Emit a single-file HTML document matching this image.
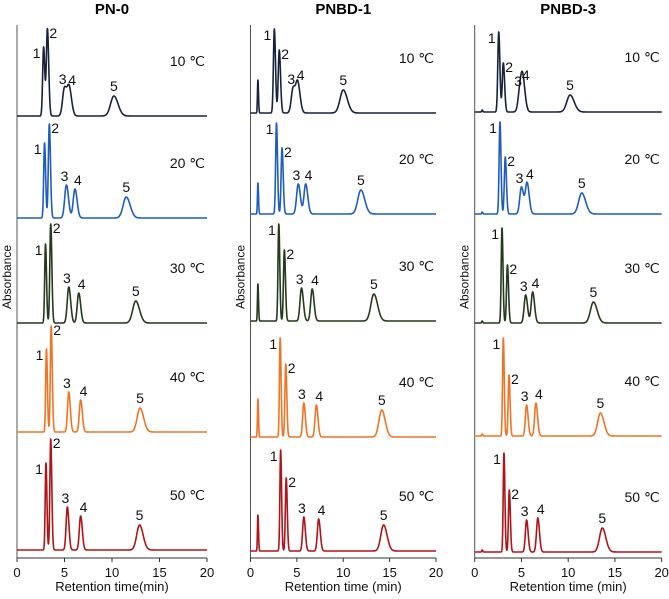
<!DOCTYPE html>
<html><head><meta charset="utf-8"><style>
html,body{margin:0;padding:0;background:#fff;}
svg{display:block;font-family:"Liberation Sans",Arial,sans-serif;}
</style></head><body>
<svg id="chart" width="669" height="599" viewBox="0 0 669 599" xmlns="http://www.w3.org/2000/svg"></svg>
<script>
// ---- data: retention times (min), peak heights (a.u.), widths (min) ----
const panelTitles = ["PN-0", "PNBD-1", "PNBD-3"];
const temps = ["10 ℃", "20 ℃", "30 ℃", "40 ℃", "50 ℃"];
const xTicks = [0, 5, 10, 15, 20];
const xTitles = ["Retention time(min)", "Retention time (min)", "Retention time (min)"];
const peakLabels = ["0", "1", "2", "3", "4", "5"];

// each row: [p0, p1, p2, p3, p4, p5]
const rtPN0 = [
  [0.8, 2.8, 3.2, 5.0, 5.5, 10.2],
  [0.8, 2.9, 3.4, 5.2, 6.1, 11.5],
  [0.8, 3.0, 3.55, 5.45, 6.5, 12.5],
  [0.8, 3.1, 3.6, 5.45, 6.7, 12.95],
  [0.8, 3.05, 3.55, 5.3, 6.7, 12.9]
];
const hPN0 = [
  [0, 69, 87, 28, 27, 20],
  [0, 75, 94, 33, 29, 21],
  [0, 79, 99, 36, 30, 22],
  [0, 83, 106, 40, 32, 24],
  [0, 87, 111, 43, 34, 25]
];
const rtPNBD1 = [
  [0.8, 2.57, 3.1, 4.6, 5.1, 10.0],
  [0.8, 2.8, 3.4, 5.15, 5.95, 11.9],
  [0.8, 3.05, 3.65, 5.5, 6.65, 13.3],
  [0.8, 3.2, 3.8, 5.75, 7.1, 14.15],
  [0.8, 3.25, 3.85, 5.75, 7.35, 14.35]
];
const hPNBD1 = [
  [33, 84, 63, 25, 29, 23],
  [31, 91, 66, 30, 30, 24],
  [37, 97, 71, 33, 32, 27],
  [38, 99, 73, 34, 32, 27],
  [36, 101, 73, 34, 32, 26]
];
const rtPNBD3 = [
  [0.8, 2.57, 3.06, 4.85, 5.15, 10.2],
  [0.8, 2.7, 3.27, 5.0, 5.6, 11.45],
  [0.8, 2.92, 3.5, 5.45, 6.2, 12.7],
  [0.8, 3.06, 3.67, 5.55, 6.55, 13.45],
  [0.8, 3.13, 3.7, 5.55, 6.75, 13.65]
];
const hPNBD3 = [
  [2, 80, 49, 22, 28, 17],
  [2, 92, 57, 27, 31, 21],
  [2, 95, 58, 28, 31, 21],
  [2, 98, 61, 31, 33, 23],
  [2, 99, 62, 32, 34, 24]
];
const widthRow = [
  [0.05, 0.1, 0.11, 0.2, 0.2, 0.35],
  [0.05, 0.09, 0.1, 0.18, 0.18, 0.33],
  [0.05, 0.085, 0.095, 0.16, 0.16, 0.32],
  [0.05, 0.08, 0.09, 0.13, 0.14, 0.3],
  [0.05, 0.08, 0.09, 0.13, 0.14, 0.3]
];
const rowColors = ["#18223e", "#1f5cc0", "#243a1c", "#f07424", "#b01418"];

// ---- layout ----
const panels = [
  {x0: 17, x1: 207, base: [116, 218, 323, 432, 550], rt: rtPN0, h: hPN0},
  {x0: 250.5, x1: 436, base: [113, 214, 321, 437, 551], rt: rtPNBD1, h: hPNBD1},
  {x0: 474.7, x1: 661.7, base: [112, 214, 323, 436, 552], rt: rtPNBD3, h: hPNBD3}
];
const axisY = 558, axisTop = 25;
const NS = "http://www.w3.org/2000/svg";
const svg = document.getElementById("chart");
function mk(tag, attrs, parent) {
  const e = document.createElementNS(NS, tag);
  for (const k in attrs) e.setAttribute(k, attrs[k]);
  (parent || svg).appendChild(e);
  return e;
}

panels.forEach((P, pi) => {
  const g = mk("g", {});
  
  
  const xs = t => P.x0 + (t / 20) * (P.x1 - P.x0);
  const cx = (P.x0 + P.x1) / 2;

  const title = mk("text", {x: cx, y: 14, "text-anchor": "middle", "font-size": 15, "font-weight": "bold", fill: "#000"}, g);
  title.textContent = panelTitles[pi];
  
  

  const yax = mk("line", {x1: P.x0, y1: axisTop, x2: P.x0, y2: axisY, stroke: "#555", "stroke-width": 1}, g);
  
  
  const xax = mk("line", {x1: P.x0, y1: axisY, x2: P.x1, y2: axisY, stroke: "#333", "stroke-width": 1}, g);
  
  

  xTicks.forEach(t => {
    const tk = mk("line", {x1: xs(t), y1: axisY, x2: xs(t), y2: axisY + 4, stroke: "#333", "stroke-width": 1}, g);
    
    
    const tl = mk("text", {x: xs(t), y: 577, "text-anchor": "middle", "font-size": 13, fill: "#111"}, g);
    tl.textContent = t;
    
    
  });
  const xt = mk("text", {x: cx, y: 591, "text-anchor": "middle", "font-size": 13, fill: "#111"}, g);
  xt.textContent = xTitles[pi];
  
  

  const yt = mk("text", {x: 0, y: 0, "text-anchor": "middle", "font-size": 12, fill: "#111", transform: "translate(" + (P.x0 - 6) + ",277) rotate(-90)"}, g);
  yt.textContent = "Absorbance";
  
  

  for (let r = 0; r < 5; r++) {
    const base = P.base[r], rts = P.rt[r], hs = P.h[r], ws = widthRow[r];
    const ys = v => base - v;
    let d = "";
    for (let t = 0; t <= 20.0001; t += 0.01) {
      let v = 0;
      for (let k = 0; k < rts.length; k++) {
        const z = (t - rts[k]) / ws[k];
        const s = z > 0 ? z / 1.25 : z;
        v += hs[k] * Math.exp(-0.5 * s * s);
      }
      d += (d ? "L" : "M") + xs(t).toFixed(2) + "," + ys(v).toFixed(2);
    }
    const path = mk("path", {d: d, fill: "none", stroke: rowColors[r], "stroke-width": 1.6, "stroke-linejoin": "round"}, g);
    
    

    const tl = mk("text", {x: P.x1 - 2, y: base - 50, "text-anchor": "end", "font-size": 14, fill: "#111"}, g);
    tl.textContent = temps[r];
    
    

    for (let k = 1; k < rts.length; k++) {
      const px = xs(rts[k]), top = ys(hs[k]);
      let ax, ay, anchor;
      if (k === 1) { ax = px - 3; ay = top + 11; anchor = "end"; }
      else if (k === 2) { ax = px + 2; ay = top + 9; anchor = "start"; }
      else if (k === 3) { ax = px + 2; ay = top - 4; anchor = "end"; }
      else if (k === 4) { ax = px - 1; ay = top - 4; anchor = "start"; }
      else { ax = px; ay = top - 5; anchor = "middle"; }
      const pl = mk("text", {x: ax, y: ay, "text-anchor": anchor, "font-size": 14, fill: "#111"}, g);
      pl.textContent = peakLabels[k];
      
      
    }
  }
});
</script>
</body></html>
